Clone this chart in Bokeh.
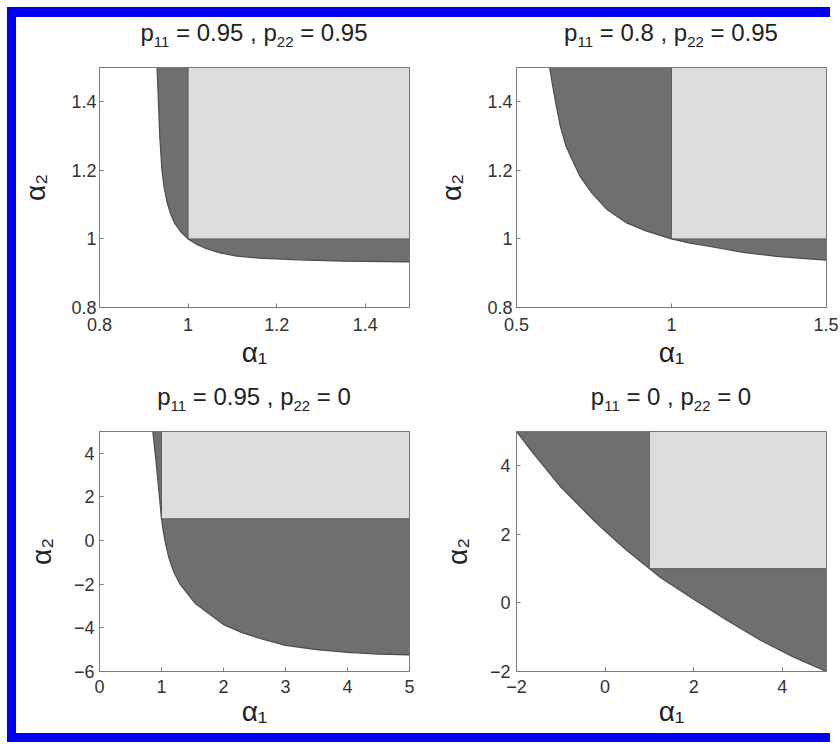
from bokeh.plotting import figure
from bokeh.layouts import column, row
from bokeh.models import Range1d, FixedTicker, Div
from bokeh.embed import file_html
from bokeh.resources import INLINE

FONT = "Liberation Sans"
DARK = "#6f6f6f"
LIGHT = "#dddddd"
EDGE = "#7a7a7a"
BLUE = "#0000f5"

# regime-switching threshold (unit value of alpha)
unit_threshold = 1.0

# ---------- panel 1 : p11 = 0.95 , p22 = 0.95 ----------
p1_p11, p1_p22 = "0.95", "0.95"
p1_xrange = [0.8, 1.5]
p1_yrange = [0.8, 1.5]
p1_xticks = [0.8, 1.0, 1.2, 1.4]
p1_xlabels = ["0.8", "1", "1.2", "1.4"]
p1_yticks = [0.8, 1.0, 1.2, 1.4]
p1_ylabels = ["0.8", "1", "1.2", "1.4"]
p1_curve_x = [0.930, 0.933, 0.936, 0.941, 0.946, 0.952, 0.960, 0.970, 0.984, 1.000, 1.020, 1.040, 1.070, 1.110, 1.160, 1.250, 1.350, 1.500]
p1_curve_y = [1.500, 1.400, 1.300, 1.200, 1.150, 1.110, 1.075, 1.045, 1.020, 1.000, 0.984, 0.972, 0.960, 0.950, 0.944, 0.939, 0.935, 0.933]

# ---------- panel 2 : p11 = 0.8 , p22 = 0.95 ----------
p2_p11, p2_p22 = "0.8", "0.95"
p2_xrange = [0.5, 1.5]
p2_yrange = [0.8, 1.5]
p2_xticks = [0.5, 1.0, 1.5]
p2_xlabels = ["0.5", "1", "1.5"]
p2_yticks = [0.8, 1.0, 1.2, 1.4]
p2_ylabels = ["0.8", "1", "1.2", "1.4"]
p2_curve_x = [0.607, 0.616, 0.626, 0.642, 0.660, 0.680, 0.706, 0.744, 0.793, 0.857, 0.922, 1.000, 1.060, 1.124, 1.231, 1.339, 1.420, 1.500]
p2_curve_y = [1.500, 1.450, 1.399, 1.326, 1.270, 1.230, 1.181, 1.133, 1.085, 1.046, 1.022, 1.000, 0.988, 0.978, 0.961, 0.949, 0.943, 0.938]

# ---------- panel 3 : p11 = 0.95 , p22 = 0 ----------
p3_p11, p3_p22 = "0.95", "0"
p3_xrange = [0.0, 5.0]
p3_yrange = [-6.0, 5.0]
p3_xticks = [0, 1, 2, 3, 4, 5]
p3_xlabels = ["0", "1", "2", "3", "4", "5"]
p3_yticks = [-6, -4, -2, 0, 2, 4]
p3_ylabels = ["\u22126", "\u22124", "\u22122", "0", "2", "4"]
p3_curve_x = [0.86, 0.89, 0.92, 0.96, 1.00, 1.03, 1.07, 1.12, 1.20, 1.30, 1.41, 1.55, 1.74, 2.00, 2.30, 2.60, 3.00, 3.50, 4.00, 4.50, 5.00]
p3_curve_y = [5.00, 4.20, 3.40, 2.20, 1.00, 0.40, -0.20, -0.80, -1.45, -2.00, -2.40, -2.90, -3.30, -3.85, -4.22, -4.50, -4.80, -5.00, -5.12, -5.20, -5.24]

# ---------- panel 4 : p11 = 0 , p22 = 0 ----------
p4_p11, p4_p22 = "0", "0"
p4_xrange = [-2.0, 5.0]
p4_yrange = [-2.0, 5.0]
p4_xticks = [-2, 0, 2, 4]
p4_xlabels = ["\u22122", "0", "2", "4"]
p4_yticks = [-2, 0, 2, 4]
p4_ylabels = ["\u22122", "0", "2", "4"]
p4_curve_x = [-2.00, -1.68, -1.38, -1.00, -0.63, -0.26, 0.12, 0.50, 1.00, 1.25, 2.00, 2.76, 3.51, 4.26, 5.00]
p4_curve_y = [5.00, 4.46, 3.98, 3.38, 2.90, 2.41, 1.96, 1.52, 1.00, 0.74, 0.11, -0.51, -1.09, -1.58, -2.00]

x_label = "\u03b1\u2081"
y_label = "\u03b1\u2082"


def title_div(p11, p22, left, height, line_h):
    sub = '<sub style="font-size:15px;vertical-align:-6px">'
    html = ("p" + sub + "11</sub> = " + p11 + " , p" + sub + "22</sub> = " + p22)
    return Div(text=html, width=310, height=height, margin=(0, 0, 0, left),
               styles={"font-family": FONT, "font-size": "24px", "color": "#222222",
                       "text-align": "center", "line-height": line_h, "white-space": "nowrap"})


def make_panel(xr, yr, xt, xl, yt, yl, cx, cy, w, h, bl, br, bt, bb,
               xs1, xs2, ys1, ys2):
    p = figure(width=w, height=h, x_range=Range1d(*xr), y_range=Range1d(*yr),
               output_backend="svg", toolbar_location=None,
               min_border_left=bl, min_border_right=br, min_border_top=bt, min_border_bottom=bb,
               background_fill_color="white", border_fill_color="white")
    p.grid.visible = False
    p.outline_line_color = EDGE
    p.outline_line_width = 1

    # dark region between the boundary curve and the upper-right corner
    p.patch(cx + [xr[1]], cy + [yr[1]], fill_color=DARK, line_color=None)
    # light region: both alphas above the threshold
    p.quad(left=unit_threshold, right=xr[1], bottom=unit_threshold, top=yr[1],
           fill_color=LIGHT, line_color="#5e5e5e", line_width=1)
    p.line(cx, cy, line_color="#4d4d4d", line_width=1.2)

    p.xaxis.ticker = FixedTicker(ticks=xt)
    p.xaxis.major_label_overrides = {float(t): s for t, s in zip(xt, xl)}
    p.yaxis.ticker = FixedTicker(ticks=yt)
    p.yaxis.major_label_overrides = {float(t): s for t, s in zip(yt, yl)}
    p.xaxis.axis_label = x_label
    p.yaxis.axis_label = y_label
    for ax in (p.xaxis, p.yaxis):
        ax.axis_line_color = EDGE
        ax.major_tick_line_color = EDGE
        ax.major_tick_in = 4
        ax.major_tick_out = 0
        ax.minor_tick_line_color = None
        ax.major_label_text_font = FONT
        ax.major_label_text_font_size = "18px"
        ax.major_label_text_color = "#333333"
        ax.axis_label_text_font = FONT
        ax.axis_label_text_font_size = "28px"
        ax.axis_label_text_font_style = "normal"
        ax.axis_label_text_color = "#222222"
    p.xaxis.major_label_standoff = xs1
    p.xaxis.axis_label_standoff = xs2
    p.yaxis.major_label_standoff = ys1
    p.yaxis.axis_label_standoff = ys2
    return p


WL, WR = 403, 419
HT, HB = 315, 321
TD = 40

f1 = make_panel(p1_xrange, p1_yrange, p1_xticks, p1_xlabels, p1_yticks, p1_ylabels,
                p1_curve_x, p1_curve_y, WL, HT, 83, 10, 10, 65, 10, 3, 3, 17)
f2 = make_panel(p2_xrange, p2_yrange, p2_xticks, p2_xlabels, p2_yticks, p2_ylabels,
                p2_curve_x, p2_curve_y, WR, HT, 97, 12, 10, 65, 10, 3, 4, 17)
f3 = make_panel(p3_xrange, p3_yrange, p3_xticks, p3_xlabels, p3_yticks, p3_ylabels,
                p3_curve_x, p3_curve_y, WL, HB, 83, 10, 19, 62, 8, 0, 5, 14)
f4 = make_panel(p4_xrange, p4_yrange, p4_xticks, p4_xlabels, p4_yticks, p4_ylabels,
                p4_curve_x, p4_curve_y, WR, HB, 97, 12, 19, 62, 8, 0, 6, 14)

t1 = title_div(p1_p11, p1_p22, 83, TD, "32px")
t2 = title_div(p2_p11, p2_p22, 97, TD, "32px")
t3 = title_div(p3_p11, p3_p22, 83, TD, "50px")
t4 = title_div(p4_p11, p4_p22, 97, TD, "50px")

col_left = column(t1, f1, t3, f3, spacing=0)
col_right = column(t2, f2, t4, f4, spacing=0)

BAR_W = 823
top_bar = Div(text="", width=BAR_W, height=10, margin=0, styles={"background-color": BLUE})
left_bar = Div(text="", width=9, height=2 * TD + HT + HB, margin=0, styles={"background-color": BLUE})
bottom_bar = Div(text="", width=BAR_W, height=9, margin=0, styles={"background-color": BLUE})

layout = column(top_bar,
                row(left_bar, col_left, col_right, spacing=0),
                bottom_bar,
                margin=(7, 0, 0, 7), spacing=0)

open("out.html", "w").write(file_html(layout, INLINE))
